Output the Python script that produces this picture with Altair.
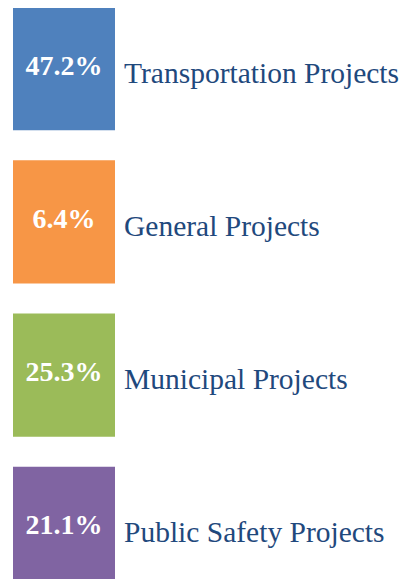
import altair as alt
import pandas as pd

categories = ["Transportation Projects", "General Projects", "Municipal Projects", "Public Safety Projects"]
shares = [47.2, 6.4, 25.3, 21.1]
colors = ["#4F81BD", "#F79646", "#9BBB59", "#8064A2"]

df = pd.DataFrame({"category": categories, "share": shares})

y = alt.Y("category:N", sort=categories,
          scale=alt.Scale(domain=categories, range=[-1, 582], paddingInner=0.196, paddingOuter=0, round=False),
          axis=None)

base = alt.Chart(df).encode(y=y)

squares = base.mark_rect().encode(
    x=alt.value(5), x2=alt.value(107),
    color=alt.Color("category:N", scale=alt.Scale(domain=categories, range=colors), legend=None),
)

pct = base.transform_calculate(
    label="format(datum.share, '.1f') + '%'"
).mark_text(
    font="Liberation Serif", fontSize=28, fontWeight="bold", color="white",
    align="center", baseline="alphabetic", dy=6,
).encode(x=alt.value(56), text="label:N")

names = base.mark_text(
    font="Liberation Serif", fontSize=29.5, color="#1F497D",
    align="left", baseline="alphabetic", dy=14,
).encode(x=alt.value(116), text="category:N")

chart = alt.layer(squares, pct, names).properties(
    width=396, height=571, padding=0, autosize="none"
).configure_view(stroke=None)

chart.save("out.html", embed_options={"renderer": "svg", "actions": False})
